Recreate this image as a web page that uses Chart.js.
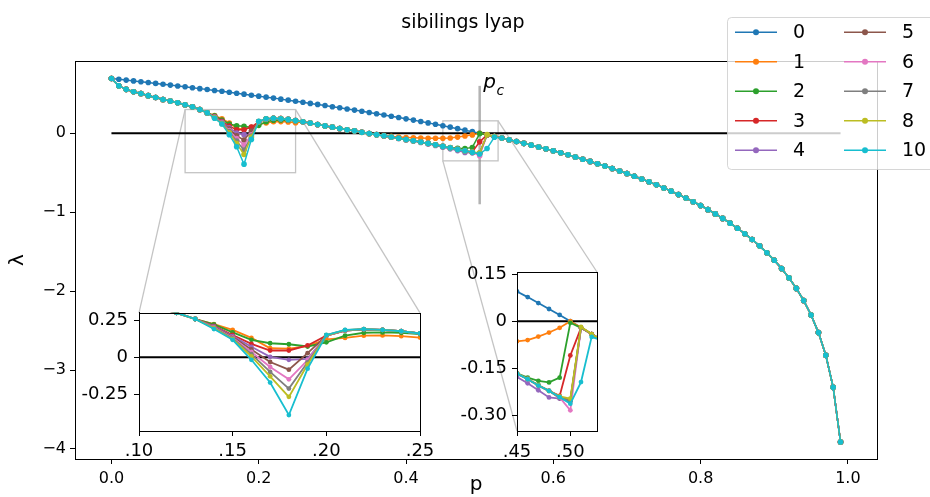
<!DOCTYPE html>
<html>
<head>
<meta charset="utf-8">
<title>sibilings lyap</title>
<script src="https://cdn.jsdelivr.net/npm/chart.js@4"></script>
<style>
  html, body { margin: 0; padding: 0; background: #fff; }
  #wrap { position: relative; width: 930px; height: 497px; overflow: hidden; }
  canvas { position: absolute; }
</style>
</head>
<body>
<div id="wrap">
  <canvas id="main" width="930" height="497" style="left:0;top:0"></canvas>
  <canvas id="zoom1" width="395" height="194" style="left:60px;top:296px"></canvas>
  <canvas id="zoom2" width="180" height="215" style="left:450px;top:255px"></canvas>
</div>
<script>
// p grid (0 .. 0.99)
const pVals = [
  0.00, 0.01, 0.02, 0.03, 0.04, 0.05, 0.06, 0.07, 0.08, 0.09,
  0.10, 0.11, 0.12, 0.13, 0.14, 0.15, 0.16, 0.17, 0.18, 0.19,
  0.20, 0.21, 0.22, 0.23, 0.24, 0.25, 0.26, 0.27, 0.28, 0.29,
  0.30, 0.31, 0.32, 0.33, 0.34, 0.35, 0.36, 0.37, 0.38, 0.39,
  0.40, 0.41, 0.42, 0.43, 0.44, 0.45, 0.46, 0.47, 0.48, 0.49,
  0.50, 0.51, 0.52, 0.53, 0.54, 0.55, 0.56, 0.57, 0.58, 0.59,
  0.60, 0.61, 0.62, 0.63, 0.64, 0.65, 0.66, 0.67, 0.68, 0.69,
  0.70, 0.71, 0.72, 0.73, 0.74, 0.75, 0.76, 0.77, 0.78, 0.79,
  0.80, 0.81, 0.82, 0.83, 0.84, 0.85, 0.86, 0.87, 0.88, 0.89,
  0.90, 0.91, 0.92, 0.93, 0.94, 0.95, 0.96, 0.97, 0.98, 0.99
];

// series "0", full range
const lyap0 = [
  0.693, 0.683, 0.673, 0.663, 0.652, 0.642, 0.631, 0.621, 0.610, 0.599,
  0.588, 0.577, 0.565, 0.554, 0.542, 0.531, 0.519, 0.507, 0.495, 0.482,
  0.470, 0.457, 0.445, 0.432, 0.419, 0.405, 0.392, 0.378, 0.365, 0.351,
  0.336, 0.322, 0.307, 0.293, 0.278, 0.262, 0.247, 0.231, 0.215, 0.199,
  0.182, 0.166, 0.148, 0.131, 0.113, 0.095, 0.077, 0.058, 0.039, 0.020,
  0.000, -0.020, -0.041, -0.062, -0.083, -0.105, -0.128, -0.151, -0.174, -0.198,
  -0.223, -0.248, -0.274, -0.301, -0.329, -0.357, -0.386, -0.416, -0.446, -0.478,
  -0.511, -0.545, -0.580, -0.616, -0.654, -0.693, -0.734, -0.777, -0.821, -0.868,
  -0.916, -0.968, -1.022, -1.079, -1.139, -1.204, -1.273, -1.347, -1.427, -1.514,
  -1.609, -1.715, -1.833, -1.966, -2.120, -2.303, -2.526, -2.813, -3.219, -3.912
];

// other series: shared start p = 0.00 .. 0.13
const startShared = [0.693, 0.600, 0.556, 0.525, 0.504, 0.476, 0.453, 0.428, 0.407, 0.385, 0.360, 0.334, 0.300, 0.258];

// dip region p = 0.14 .. 0.25
const dip1 = [0.224, 0.184, 0.130, 0.060, 0.058, 0.075, 0.120, 0.130, 0.145, 0.147, 0.142, 0.132];
const dip2 = [0.222, 0.168, 0.117, 0.094, 0.087, 0.072, 0.100, 0.145, 0.165, 0.167, 0.165, 0.155];
const dip3 = [0.212, 0.150, 0.090, 0.045, 0.045, 0.079, 0.145, 0.180, 0.188, 0.185, 0.175, 0.160];
const dip4 = [0.208, 0.142, 0.070, 0.002, -0.018, -0.012, 0.145, 0.180, 0.188, 0.185, 0.175, 0.160];
const dip5 = [0.205, 0.136, 0.052, -0.033, -0.085, 0.027, 0.145, 0.180, 0.188, 0.185, 0.175, 0.160];
const dip6 = [0.202, 0.131, 0.035, -0.067, -0.150, -0.020, 0.146, 0.181, 0.189, 0.185, 0.175, 0.160];
const dip7 = [0.198, 0.126, 0.020, -0.100, -0.213, -0.035, 0.147, 0.182, 0.189, 0.185, 0.175, 0.160];
const dip8 = [0.195, 0.121, 0.005, -0.130, -0.269, -0.050, 0.148, 0.183, 0.190, 0.185, 0.175, 0.160];
const dip10 = [0.190, 0.117, -0.018, -0.172, -0.392, -0.078, 0.150, 0.184, 0.190, 0.184, 0.175, 0.160];

// shared middle p = 0.26 .. 0.32
const midShared = [0.145, 0.128, 0.110, 0.093, 0.077, 0.060, 0.043];

// approach to p_c, p = 0.33 .. 0.52 (after that all equal lyap0)
const end1 = [0.030, 0.013, -0.003, -0.018, -0.030, -0.040, -0.048, -0.054, -0.058, -0.061, -0.063, -0.064, -0.064, -0.060, -0.049, -0.036, -0.021, 0.000, -0.020, -0.041];
const end2 = [0.028, 0.011, -0.005, -0.020, -0.035, -0.050, -0.065, -0.080, -0.096, -0.112, -0.129, -0.147, -0.166, -0.180, -0.190, -0.195, -0.180, -0.005, -0.021, -0.041];
const end3 = [0.030, 0.013, -0.003, -0.018, -0.033, -0.048, -0.063, -0.079, -0.095, -0.112, -0.129, -0.147, -0.167, -0.185, -0.205, -0.222, -0.238, -0.109, -0.021, -0.041];
const end4 = [0.029, 0.012, -0.004, -0.020, -0.035, -0.051, -0.066, -0.082, -0.099, -0.117, -0.135, -0.155, -0.178, -0.198, -0.220, -0.243, -0.247, -0.255, -0.021, -0.041];
const end5 = [0.030, 0.013, -0.003, -0.018, -0.033, -0.048, -0.063, -0.079, -0.095, -0.112, -0.129, -0.147, -0.166, -0.184, -0.204, -0.222, -0.245, -0.250, -0.021, -0.041];
const end6 = [0.030, 0.013, -0.003, -0.018, -0.033, -0.048, -0.063, -0.079, -0.095, -0.112, -0.129, -0.147, -0.166, -0.185, -0.205, -0.222, -0.243, -0.284, -0.021, -0.041];
const end7 = [0.030, 0.013, -0.003, -0.018, -0.033, -0.048, -0.063, -0.079, -0.095, -0.112, -0.129, -0.147, -0.166, -0.184, -0.204, -0.222, -0.241, -0.255, -0.021, -0.041];
const end8 = [0.030, 0.013, -0.003, -0.018, -0.033, -0.048, -0.063, -0.079, -0.095, -0.112, -0.129, -0.147, -0.166, -0.184, -0.204, -0.222, -0.240, -0.247, -0.018, -0.041];
const end10 = [0.030, 0.013, -0.003, -0.018, -0.033, -0.048, -0.063, -0.079, -0.095, -0.112, -0.129, -0.147, -0.167, -0.185, -0.205, -0.222, -0.242, -0.263, -0.194, -0.050];

const seriesNames = ['0', '1', '2', '3', '4', '5', '6', '7', '8', '10'];
const seriesColors = ['#1f77b4', '#ff7f0e', '#2ca02c', '#d62728', '#9467bd', '#8c564b', '#e377c2', '#7f7f7f', '#bcbd22', '#17becf'];

const mainXTicks = [0, 0.2, 0.4, 0.6, 0.8, 1.0];
const mainYTicks = [-4, -3, -2, -1, 0];
const zoom1XTicks = [0.10, 0.15, 0.20, 0.25];
const zoom1XLabels = ['.10', '.15', '.20', '.25'];
const zoom1YTicks = [0.25, 0, -0.25];
const zoom1YLabels = ['0.25', '0', '-0.25'];
const zoom2XTicks = [0.45, 0.50];
const zoom2XLabels = ['.45', '.50'];
const zoom2YTicks = [0.15, 0, -0.15, -0.30];
const zoom2YLabels = ['0.15', '0', '-0.15', '-0.30'];

const pc = 0.5;

Chart.defaults.font.family = '"DejaVu Sans", sans-serif';
Chart.defaults.color = '#000';

function buildSeries(dip, end) {
  return startShared.concat(dip, midShared, end, lyap0.slice(53));
}

const seriesValues = [
  lyap0,
  buildSeries(dip1, end1), buildSeries(dip2, end2), buildSeries(dip3, end3),
  buildSeries(dip4, end4), buildSeries(dip5, end5), buildSeries(dip6, end6),
  buildSeries(dip7, end7), buildSeries(dip8, end8), buildSeries(dip10, end10)
];

function makeDatasets(lineWidth, radius, withPc) {
  const sets = [];
  if (withPc) {
    sets.push({
      data: [{ x: pc, y: -0.9 }, { x: pc, y: 0.6 }],
      borderColor: 'rgba(128,128,128,0.6)', borderWidth: 2.5,
      pointRadius: 0, order: 100
    });
  }
  sets.push({
    data: [{ x: pVals[0], y: 0 }, { x: pVals[pVals.length - 1], y: 0 }],
    borderColor: '#000', borderWidth: 2, pointRadius: 0, order: 99
  });
  seriesValues.forEach(function(vals, i) {
    sets.push({
      label: seriesNames[i],
      data: pVals.map(function(p, j) { return { x: p, y: vals[j] }; }),
      borderColor: seriesColors[i],
      backgroundColor: seriesColors[i],
      pointBackgroundColor: seriesColors[i],
      pointBorderWidth: 0,
      pointRadius: radius,
      borderWidth: lineWidth,
      clip: 0,
      order: 10 - i
    });
  });
  return sets;
}

const framePlugin = {
  id: 'frame',
  beforeDraw(chart) {
    const a = chart.chartArea, ctx = chart.ctx;
    ctx.save();
    ctx.fillStyle = '#fff';
    ctx.fillRect(a.left, a.top, a.right - a.left, a.bottom - a.top);
    ctx.restore();
  },
  afterDatasetsDraw(chart) {
    const a = chart.chartArea, ctx = chart.ctx;
    ctx.save();
    ctx.strokeStyle = '#000';
    ctx.lineWidth = 1;
    ctx.strokeRect(Math.round(a.left) + 0.5, Math.round(a.top) + 0.5, Math.round(a.right - a.left), Math.round(a.bottom - a.top));
    ctx.restore();
  }
};

function axisOpts(ticks, labels, range, fit, pad, fontSize) {
  return {
    type: 'linear', min: range[0], max: range[1],
    afterBuildTicks: function(axis) { axis.ticks = ticks.map(function(v) { return { value: v }; }); },
    afterFit: fit,
    ticks: {
      font: { size: fontSize }, color: '#000', padding: pad, maxRotation: 0,
      callback: function(v, i) { return labels[i]; }
    },
    grid: { drawOnChartArea: false, drawTicks: true, tickLength: 5, color: '#000', tickWidth: 1 },
    border: { display: true, color: '#000', width: 1 }
  };
}

function makeInset(id, canvasW, canvasH, box, xr, yr, xt, xl, yt, yl, xPad, yPad) {
  return new Chart(document.getElementById(id), {
    type: 'line',
    data: { datasets: makeDatasets(1.8, 2.4, false) },
    options: {
      responsive: false, animation: false, devicePixelRatio: 1, events: [],
      layout: { padding: { left: 0, top: box.top, right: canvasW - box.right, bottom: 0 } },
      plugins: { legend: { display: false }, tooltip: { enabled: false } },
      scales: {
        x: axisOpts(xt, xl, xr, function(s) { s.height = canvasH - box.bottom; }, xPad, 18),
        y: axisOpts(yt, yl, yr, function(s) { s.width = box.left; }, yPad, 18)
      }
    },
    plugins: [framePlugin]
  });
}

const zoom1Pos = { left: 60, top: 296 };
const zoom2Pos = { left: 450, top: 255 };

const zoom1Chart = makeInset('zoom1', 395, 194, { left: 79, top: 16, right: 360, bottom: 135 },
  [0.10, 0.25], [-0.5, 0.3], zoom1XTicks, zoom1XLabels, zoom1YTicks, zoom1YLabels, 5, 6);
const zoom2Chart = makeInset('zoom2', 180, 215, { left: 67, top: 17, right: 147, bottom: 176 },
  [0.45, 0.525], [-0.35, 0.157], zoom2XTicks, zoom2XLabels, zoom2YTicks, zoom2YLabels, 6, 5);

function insetCorner(chart, pos, corner) {
  const a = chart.chartArea;
  const x = corner.indexOf('l') >= 0 ? a.left : a.right;
  const y = corner.indexOf('t') >= 0 ? a.top : a.bottom;
  return [pos.left + x, pos.top + y];
}

const decorPlugin = {
  id: 'decor',
  beforeDatasetsDraw(chart) {
    const ctx = chart.ctx, xs = chart.scales.x, ys = chart.scales.y;
    ctx.save();
    ctx.strokeStyle = '#c4c4c4';
    ctx.lineWidth = 1.3;
    const marks = [
      { chart: zoom1Chart, pos: zoom1Pos, corners: ['tl', 'tr'] },
      { chart: zoom2Chart, pos: zoom2Pos, corners: ['bl', 'tr'] }
    ];
    marks.forEach(function(m) {
      const sx = m.chart.scales.x, sy = m.chart.scales.y;
      const l = xs.getPixelForValue(sx.min), r = xs.getPixelForValue(sx.max);
      const t = ys.getPixelForValue(sy.max), b = ys.getPixelForValue(sy.min);
      ctx.strokeRect(l, t, r - l, b - t);
      m.corners.forEach(function(c) {
        const from = [c.indexOf('l') >= 0 ? l : r, c.indexOf('t') >= 0 ? t : b];
        const to = insetCorner(m.chart, m.pos, c);
        ctx.beginPath();
        ctx.moveTo(from[0], from[1]);
        ctx.lineTo(to[0], to[1]);
        ctx.stroke();
      });
    });
    ctx.restore();
  },
  afterDatasetsDraw(chart) {
    const ctx = chart.ctx, xs = chart.scales.x, ys = chart.scales.y;
    ctx.save();
    ctx.fillStyle = '#000';
    ctx.textBaseline = 'alphabetic';
    const px = xs.getPixelForValue(pc) + 3.5, py = ys.getPixelForValue(0.57);
    ctx.font = 'italic 20px "DejaVu Sans"';
    ctx.fillText('p', px, py);
    const w = ctx.measureText('p').width;
    ctx.font = 'italic 14px "DejaVu Sans"';
    ctx.fillText('c', px + w + 0.5, py + 7);
    ctx.restore();
  },
  afterDraw(chart) {
    const ctx = chart.ctx;
    ctx.save();
    // title
    ctx.fillStyle = '#000';
    ctx.font = '19px "DejaVu Sans"';
    ctx.textAlign = 'center';
    ctx.textBaseline = 'alphabetic';
    ctx.fillText('sibilings lyap', 463, 28);
    // legend
    ctx.beginPath();
    ctx.roundRect(727.5, 17.5, 240, 152, 4);
    ctx.fillStyle = 'rgba(255,255,255,0.8)';
    ctx.fill();
    ctx.strokeStyle = 'rgba(204,204,204,0.8)';
    ctx.lineWidth = 1;
    ctx.stroke();
    ctx.font = '19px "DejaVu Sans"';
    ctx.textAlign = 'left';
    ctx.textBaseline = 'middle';
    seriesNames.forEach(function(name, i) {
      const x0 = i < 5 ? 735 : 844;
      const y = 32.3 + (i % 5) * 29.5;
      ctx.strokeStyle = seriesColors[i];
      ctx.lineWidth = 1.5;
      ctx.beginPath();
      ctx.moveTo(x0, y);
      ctx.lineTo(x0 + 42, y);
      ctx.stroke();
      ctx.fillStyle = seriesColors[i];
      ctx.beginPath();
      ctx.arc(x0 + 21, y, 3, 0, Math.PI * 2);
      ctx.fill();
      ctx.fillStyle = '#000';
      ctx.fillText(name, x0 + 58, y + 1);
    });
    ctx.restore();
  }
};

const mainX = axisOpts(mainXTicks, mainXTicks.map(function(v) { return v.toFixed(1); }),
  [-0.0495, 1.0395], function(s) { s.height = 38; }, 5, 16);
mainX.title = { display: true, text: 'p', font: { size: 20 }, color: '#000', padding: { top: 0, bottom: 0 } };
const mainY = axisOpts(mainYTicks, mainYTicks.map(function(v) { return v < 0 ? '\u2212' + Math.abs(v) : String(v); }),
  [-4.127, 0.915], function(s) { s.width = 75; }, 4, 16);
mainY.title = { display: true, text: '\u03bb', font: { size: 20 }, color: '#000', padding: { top: 6, bottom: 0 } };

new Chart(document.getElementById('main'), {
  type: 'line',
  data: { datasets: makeDatasets(1.5, 2.8, true) },
  options: {
    responsive: false, animation: false, devicePixelRatio: 1, events: [],
    layout: { padding: { left: 0, top: 61, right: 53, bottom: 0 } },
    plugins: { legend: { display: false }, tooltip: { enabled: false } },
    scales: { x: mainX, y: mainY }
  },
  plugins: [framePlugin, decorPlugin]
});
</script>
</body>
</html>
